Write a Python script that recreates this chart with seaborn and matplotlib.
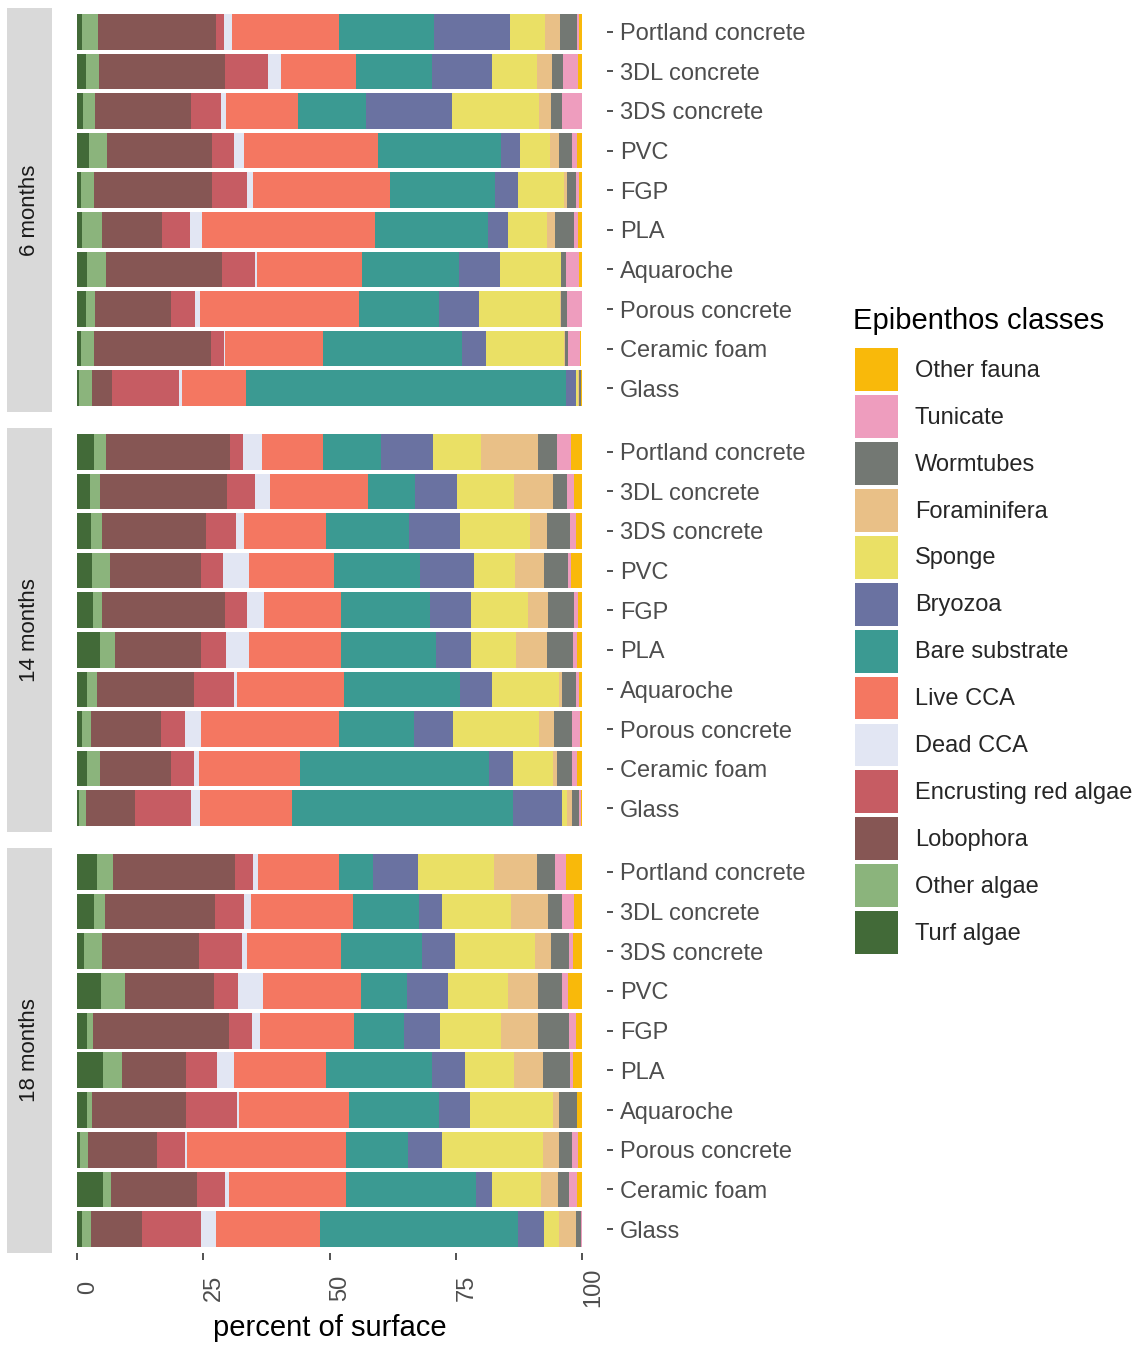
import numpy as np
import pandas as pd
import matplotlib
matplotlib.use("Agg")
import matplotlib.pyplot as plt
from matplotlib.patches import Patch
import seaborn as sns

# ---------------- data ----------------
substrates = ["Portland concrete", "3DL concrete", "3DS concrete", "PVC", "FGP",
              "PLA", "Aquaroche", "Porous concrete", "Ceramic foam", "Glass"]
times = ["6 months", "14 months", "18 months"]

# stacking order, left -> right
classes = ["Turf algae", "Other algae", "Lobophora", "Encrusting red algae",
           "Dead CCA", "Live CCA", "Bare substrate", "Bryozoa", "Sponge",
           "Foraminifera", "Wormtubes", "Tunicate", "Other fauna"]

# values: 10 substrates for 6 months, then 14 months, then 18 months
turf_algae = [1.0, 1.7, 1.2, 2.3, 0.7, 0.9, 1.9, 1.7, 0.8, 0.4,
              3.4, 2.6, 2.7, 3.0, 3.2, 4.5, 1.9, 1.0, 1.9, 0.3,
              4.0, 3.4, 1.3, 4.8, 1.9, 5.2, 2.0, 0.6, 5.1, 1.0]
other_algae = [3.1, 2.7, 2.3, 3.7, 2.6, 4.0, 3.8, 1.8, 2.6, 2.5,
               2.4, 1.9, 2.3, 3.4, 1.7, 3.0, 2.0, 1.7, 2.7, 1.5,
               3.0, 2.1, 3.7, 4.6, 1.2, 3.6, 0.9, 1.6, 1.6, 1.7]
lobophora = [23.4, 24.9, 19.0, 20.7, 23.5, 12.0, 22.9, 15.0, 23.1, 4.0,
             24.5, 25.2, 20.6, 18.2, 24.4, 17.0, 19.2, 14.0, 14.0, 9.6,
             24.2, 21.9, 19.1, 17.7, 26.9, 12.8, 18.6, 13.7, 17.0, 10.2]
encrusting_red = [1.6, 8.5, 6.0, 4.4, 6.8, 5.4, 6.6, 4.9, 2.6, 13.3,
                  2.6, 5.5, 5.9, 4.3, 4.4, 4.9, 7.9, 4.6, 4.6, 11.1,
                  3.6, 5.6, 8.5, 4.8, 4.6, 6.2, 10.2, 5.4, 5.5, 11.6]
dead_cca = [1.6, 2.6, 1.0, 1.9, 1.3, 2.4, 0.5, 0.9, 0.1, 0.5,
            3.7, 3.0, 1.5, 5.1, 3.4, 4.7, 0.6, 3.2, 0.9, 1.9,
            1.0, 1.4, 1.0, 5.0, 1.6, 3.2, 0.4, 0.4, 0.9, 3.1]
live_cca = [21.1, 14.8, 14.3, 26.7, 27.1, 34.4, 20.7, 31.5, 19.5, 12.7,
            12.2, 19.4, 16.4, 16.9, 15.2, 18.2, 21.2, 27.4, 20.1, 18.2,
            16.0, 20.2, 18.7, 19.4, 18.6, 18.4, 21.7, 31.5, 23.2, 20.6]
bare_substrate = [18.9, 15.1, 13.4, 24.3, 20.9, 22.4, 19.2, 16.0, 27.6, 63.5,
                  11.5, 9.4, 16.4, 17.0, 17.6, 18.9, 23.1, 14.9, 37.4, 43.8,
                  6.8, 13.1, 16.0, 9.1, 9.9, 20.9, 18.0, 12.3, 25.7, 39.2]
bryozoa = [15.0, 11.9, 17.0, 3.8, 4.5, 3.8, 8.2, 7.8, 4.8, 2.0,
           10.2, 8.3, 10.1, 10.7, 8.2, 6.9, 6.4, 7.6, 4.7, 9.6,
           9.0, 4.5, 6.5, 8.0, 7.2, 6.5, 6.0, 6.7, 3.2, 5.2]
sponge = [7.1, 8.9, 17.4, 6.0, 9.0, 7.9, 12.0, 16.0, 15.3, 0.3,
          9.5, 11.2, 13.8, 8.2, 11.3, 8.8, 13.1, 17.1, 7.9, 1.0,
          15.0, 13.7, 16.0, 12.0, 12.1, 9.8, 16.5, 20.1, 9.7, 2.8]
foraminifera = [2.9, 3.0, 2.3, 1.7, 0.6, 1.4, 0.1, 0.2, 0.3, 0.2,
                11.3, 7.7, 3.4, 5.7, 4.0, 6.2, 0.6, 2.9, 0.9, 1.0,
                8.5, 7.5, 3.1, 6.0, 7.4, 5.7, 1.2, 3.1, 3.3, 3.4]
wormtubes = [3.3, 2.1, 2.1, 2.5, 1.9, 3.8, 1.0, 1.2, 0.6, 0.4,
             3.7, 2.8, 4.5, 4.7, 5.0, 5.2, 2.9, 3.6, 2.9, 1.5,
             3.6, 2.7, 3.5, 4.6, 6.1, 5.3, 3.5, 2.6, 2.2, 1.0]
tunicate = [0.4, 3.1, 4.0, 1.1, 0.5, 0.9, 2.5, 3.0, 2.3, 0.1,
            2.8, 1.5, 1.3, 0.7, 0.9, 0.8, 0.6, 1.7, 1.0, 0.3,
            2.1, 2.3, 0.9, 1.2, 1.4, 0.7, 0.1, 1.3, 1.7, 0.2]
other_fauna = [0.6, 0.7, 0.1, 0.9, 0.6, 0.7, 0.7, 0.0, 0.3, 0.1,
               2.2, 1.5, 1.1, 2.1, 0.7, 0.9, 0.5, 0.3, 1.0, 0.2,
               3.2, 1.6, 1.7, 2.8, 1.2, 1.7, 0.9, 0.7, 0.9, 0.0]

class_values = [turf_algae, other_algae, lobophora, encrusting_red, dead_cca,
                live_cca, bare_substrate, bryozoa, sponge, foraminifera,
                wormtubes, tunicate, other_fauna]

colors = ["#426A38", "#8BB47C", "#865654", "#C65C63", "#E2E6F3", "#F47761",
          "#3B9A92", "#6A72A1", "#EAE065", "#E9C087", "#737873", "#EE9DBE",
          "#F9B90A"]

# ---------------- long table ----------------
rows = []
for cls, vals in zip(classes, class_values):
    for ti, t in enumerate(times):
        for si, s in enumerate(substrates):
            rows.append({"time": t, "substrate": s, "cls": cls,
                         "pct": vals[ti * 10 + si]})
df = pd.DataFrame(rows)
df["substrate"] = pd.Categorical(df["substrate"], categories=substrates, ordered=True)

legend_order = classes[::-1]
palette = dict(zip(classes, colors))

# ---------------- figure ----------------
sns.set_theme(style="white")
plt.rcParams["font.family"] = ["Liberation Sans", "DejaVu Sans"]

W, H = 1140, 1346
fig = plt.figure(figsize=(W / 100, H / 100), dpi=100)

px_left, px_right = 52, 607
panels_px = [(8, 412), (428, 832), (848, 1253)]

def fx(px):
    return px / W

def fy(py):
    return 1 - py / H

for i, (t, (top, bot)) in enumerate(zip(times, panels_px)):
    ax = fig.add_axes([fx(px_left), fy(bot), fx(px_right - px_left), (bot - top) / H])
    sub = df[df["time"] == t]
    sns.histplot(data=sub, y="substrate", hue="cls", weights="pct",
                 multiple="stack", discrete=True, shrink=0.9,
                 hue_order=legend_order, palette=palette, alpha=1,
                 linewidth=0, edgecolor="none", legend=False, ax=ax)
    ax.set_xlim(-5, 105)
    ax.set_ylim(9.6, -0.6)
    ax.set_yticks(range(len(substrates)))
    ax.set_yticklabels(substrates)
    ax.set_ylabel("")
    ax.set_xlabel("")
    for sp in ax.spines.values():
        sp.set_visible(False)
    ax.grid(False)
    ax.yaxis.tick_right()
    ax.tick_params(axis="y", left=False, right=True, labelleft=False,
                   labelright=True, length=4.5, width=1.2, color="#333333",
                   labelcolor="#4D4D4D", labelsize=17, pad=5)
    ax.set_xticks([0, 25, 50, 75, 100])
    if i == 2:
        ax.tick_params(axis="x", bottom=True, labelbottom=True, length=5,
                       width=1.2, color="#333333", labelcolor="#4D4D4D",
                       labelsize=17, pad=20)
        for lab in ax.get_xticklabels():
            lab.set_rotation(90)
            lab.set_va("center")
            lab.set_ha("left")
    else:
        ax.tick_params(axis="x", bottom=False, labelbottom=False)

    # facet strip on the left
    sax = fig.add_axes([fx(7), fy(bot), fx(52 - 7), (bot - top) / H])
    sax.set_facecolor("#D9D9D9")
    sax.set_xticks([])
    sax.set_yticks([])
    for sp in sax.spines.values():
        sp.set_visible(False)
    sax.text(0.5, 0.5, t, rotation=90, ha="center", va="center",
             fontsize=16, color="#1A1A1A", transform=sax.transAxes)

fig.text(fx(329.5), fy(1328), "percent of surface", ha="center", va="center",
         fontsize=21, color="black")

# legend: title as text, keys via legend
fig.text(fx(853), fy(321), "Epibenthos classes", ha="left", va="center",
         fontsize=21, color="black")
handles = [Patch(facecolor=palette[c], edgecolor="none") for c in legend_order]
leg = fig.legend(handles, legend_order, loc="upper left",
                 bbox_to_anchor=(fx(855), fy(348)), frameon=False,
                 fontsize=17, handlelength=1.82, handleheight=2.42,
                 labelspacing=0.17, handletextpad=0.72, borderaxespad=0,
                 borderpad=0)

fig.savefig("out.png", dpi=100, facecolor="white")
